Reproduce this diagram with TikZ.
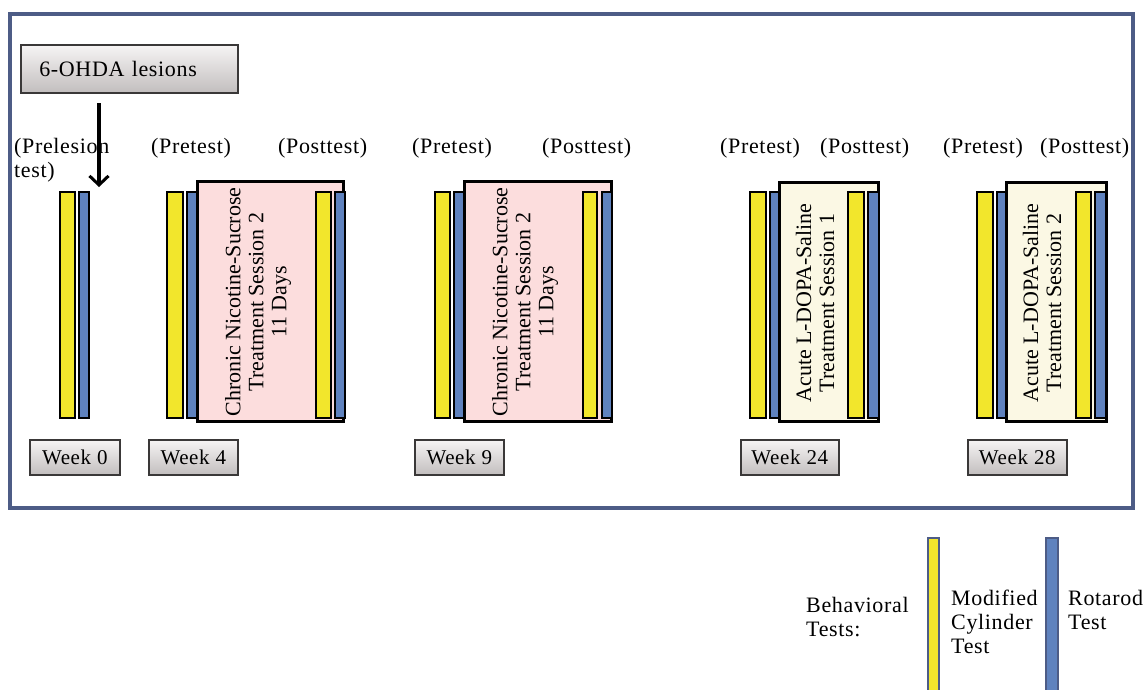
\documentclass[tikz,border=0pt]{standalone}
\usepackage{fontspec}
\setmainfont{Liberation Serif}
\usetikzlibrary{arrows.meta,shadows}
\definecolor{frameblue}{HTML}{4D5C86}
\definecolor{baryellow}{HTML}{F2E62C}
\definecolor{barblue}{HTML}{5F82BE}
\definecolor{pinkbox}{HTML}{FCDDDD}
\definecolor{creambox}{HTML}{FBF8E4}
\definecolor{greytop}{HTML}{F6F4F4}
\definecolor{greybot}{HTML}{C2BEBE}
\definecolor{greyborder}{HTML}{3A3838}
\newfontfamily\spaced[LetterSpace=3]{Liberation Serif}
\tikzset{
  ybar/.style={draw=black, line width=2.4pt, fill=baryellow},
  bbar/.style={draw=black, line width=2.4pt, fill=barblue},
  treatbox/.style={draw=black, line width=3pt},
  greybox/.style={draw=greyborder, line width=1.6pt, top color=greytop, bottom color=greybot,
                  drop shadow={shadow xshift=1pt, shadow yshift=-1.5pt, opacity=0.25}},
  lbl/.style={font=\spaced\fontsize{22}{24}\selectfont, inner sep=0pt, anchor=base west},
  rottxt/.style={font=\fontsize{22}{23}\selectfont, rotate=90, align=center, inner sep=0pt},
  arr/.style={line width=3.5pt, -{Straight Barb[length=9pt,width=19pt,line width=3pt]}}
}
\begin{document}
\begin{tikzpicture}[x=1pt,y=-1pt]
\useasboundingbox (0,0) rectangle (1145,689);
\clip (0,0) rectangle (1145,689);
\fill[white] (0,0) rectangle (1145,689);
% frame
\draw[frameblue, line width=3.2pt] (10,14) rectangle (1133,508);
% 6-OHDA box
\node[greybox, minimum width=217pt, minimum height=48pt, anchor=north west,
      font=\spaced\fontsize{22}{24}\selectfont, text width=200pt, align=left] (ohda) at (20,44) {\hspace*{10pt}6-OHDA lesions};
% header labels
\node[lbl] (pre0) at (14,153) {(Prelesion};
\node[lbl] (pre0b) at (14,177) {test)};
\coordinate (arrS) at (99,103);
\coordinate (arrE) at (99,187);
\draw[arr] (arrS) -- (arrE);
\node[lbl] (pre4) at (151,153) {(Pretest)};
\node[lbl] (post4) at (278,153) {(Posttest)};
\node[lbl] (pre9) at (412,153) {(Pretest)};
\node[lbl] (post9) at (542,153) {(Posttest)};
\node[lbl] (pre24) at (720,153) {(Pretest)};
\node[lbl] (post24) at (820,153) {(Posttest)};
\node[lbl] (pre28) at (943,153) {(Pretest)};
\node[lbl] (post28) at (1040,153) {(Posttest)};
% Week 0
\draw[ybar] (60,192) rectangle (75,418);
\draw[bbar] (79,192) rectangle (89,418);
% Week 4
\draw[ybar] (167,192) rectangle (183,418);
\draw[bbar] (187,192) rectangle (197,418);
\draw[treatbox, fill=pinkbox] (197,181) rectangle (343,421);
\draw[ybar] (316,192) rectangle (331,418);
\draw[bbar] (335,192) rectangle (345,418);
\node[rottxt] (t4) at (258,302) {Chronic Nicotine-Sucrose\\Treatment Session 2\\11 Days};
% Week 9
\draw[ybar] (435,192) rectangle (450,418);
\draw[bbar] (454,192) rectangle (464,418);
\draw[treatbox, fill=pinkbox] (464,181) rectangle (611,421);
\draw[ybar] (583,192) rectangle (597,418);
\draw[bbar] (602,192) rectangle (612,418);
\node[rottxt] (t9) at (525,302) {Chronic Nicotine-Sucrose\\Treatment Session 2\\11 Days};
% Week 24
\draw[ybar] (750,192) rectangle (766,418);
\draw[bbar] (770,192) rectangle (780,418);
\draw[treatbox, fill=creambox] (779,182) rectangle (878,421);
\draw[ybar] (848,192) rectangle (864,418);
\draw[bbar] (868,192) rectangle (879,418);
\node[rottxt] (t24) at (815,303) {Acute L-DOPA-Saline\\Treatment Session 1};
% Week 28
\draw[ybar] (977,192) rectangle (993,418);
\draw[bbar] (997,192) rectangle (1006,418);
\draw[treatbox, fill=creambox] (1006,182) rectangle (1106,421);
\draw[ybar] (1076,192) rectangle (1091,418);
\draw[bbar] (1095,192) rectangle (1106,418);
\node[rottxt] (t28) at (1042,303) {Acute L-DOPA-Saline\\Treatment Session 2};
% week labels
\tikzset{wk/.style={greybox, minimum height=35pt, inner sep=0pt, font=\spaced\fontsize{21}{24}\selectfont, anchor=north west}}
\node[wk, minimum width=90pt] (w0) at (29,439) {Week 0};
\node[wk, minimum width=89pt] (w4) at (148,439) {Week 4};
\node[wk, minimum width=89pt] (w9) at (414,439) {Week 9};
\node[wk, minimum width=98pt] (w24) at (740,439) {Week 24};
\node[wk, minimum width=99pt] (w28) at (967,439) {Week 28};
% legend
\node[lbl] (beh1) at (806,612) {Behavioral};
\node[lbl] (beh2) at (806,636) {Tests:};
\draw[draw=frameblue, line width=1.6pt, fill=baryellow] (928,538) rectangle (939,700);
\node[lbl] (mct1) at (951,605) {Modified};
\node[lbl] (mct2) at (951,629) {Cylinder};
\node[lbl] (mct3) at (951,653) {Test};
\draw[draw=frameblue, line width=1.6pt, fill=barblue] (1046,538) rectangle (1058,700);
\node[lbl] (rot1) at (1068,605) {Rotarod};
\node[lbl] (rot2) at (1068,629) {Test};
\end{tikzpicture}
\end{document}
